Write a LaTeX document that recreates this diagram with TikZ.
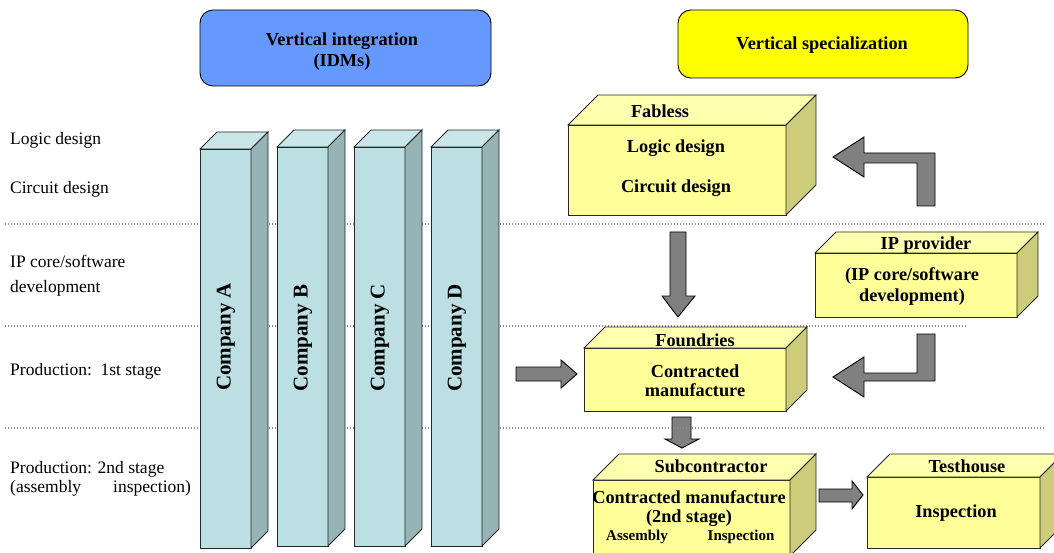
\documentclass[tikz,border=0pt]{standalone}
\usepackage{fontspec}
\setmainfont{Liberation Serif}
\definecolor{hdblue}{HTML}{6699FF}
\definecolor{hdyel}{HTML}{FFFF00}
\definecolor{colfront}{HTML}{BBDFE2}
\definecolor{coltop}{HTML}{C9E7E9}
\definecolor{colside}{HTML}{96B3B5}
\definecolor{yelfront}{HTML}{FFFF99}
\definecolor{yeltop}{HTML}{FFFFB0}
\definecolor{yelside}{HTML}{CCCC7A}
\definecolor{arrgray}{HTML}{808080}
\definecolor{dotgray}{HTML}{8C8C8C}
\newcommand{\cuboid}[6]{%
  \filldraw[#6front] (#1,#2) rectangle (#3,#4);
  \filldraw[#6top] (#1,#2) -- ({#1+#5},{#2-#5}) -- ({#3+#5},{#2-#5}) -- (#3,#2) -- cycle;
  \filldraw[#6side] (#3,#2) -- ({#3+#5},{#2-#5}) -- ({#3+#5},{#4-#5}) -- (#3,#4) -- cycle;
}
\tikzset{
  header/.style={draw=black, rounded corners=13pt, line width=0.9pt},
  colfront/.style={fill=colfront, draw=black!85, line width=0.9pt},
  coltop/.style={fill=coltop, draw=black!85, line width=0.9pt},
  colside/.style={fill=colside, draw=black!85, line width=0.9pt},
  yelfront/.style={fill=yelfront, draw=black!85, line width=0.9pt},
  yeltop/.style={fill=yeltop, draw=black!85, line width=0.9pt},
  yelside/.style={fill=yelside, draw=black!85, line width=0.9pt},
  blockarrow/.style={fill=arrgray, draw=black, line width=0.9pt},
  dotline/.style={draw=dotgray, line width=1.6pt, dash pattern=on 1.4pt off 1.6pt},
  side/.style={inner sep=0pt, anchor=base west, font=\fontsize{17.5}{20}\selectfont},
  bold/.style={inner sep=0pt, align=center, font=\fontsize{18.3}{21}\selectfont\bfseries},
  colname/.style={inner sep=0pt, rotate=90, font=\fontsize{21}{24}\selectfont\bfseries},
  small/.style={inner sep=0pt, font=\fontsize{15}{17}\selectfont\bfseries},
}
\begin{document}
\begin{tikzpicture}[x=1pt, y=-1pt]
\useasboundingbox (0,0) rectangle (1054,553);
\clip (0,0) rectangle (1054,553);
\fill[white] (0,0) rectangle (1054,553);

% header boxes
\filldraw[header, fill=hdblue] (200,10) rectangle (491,86);
\node[bold] (hdint) at (342,52) {Vertical integration\\(IDMs)};
\filldraw[header, fill=hdyel] (678,10) rectangle (968,78);
\node[bold] (hdspec) at (822,45) {Vertical specialization};

% side labels
\node[side] (l1) at (10,145) {Logic design};
\node[side] (l2) at (10,194) {Circuit design};
\node[side] (l3) at (10,268) {IP core/software};
\node[side] (l4) at (10,292) {development};
\node[side] (l5) at (10,375) {Production:\ \ 1st stage};
\node[side] (l6) at (10,473) {Production: 2nd stage};
\node[side] (l7) at (10,492) {(assembly};
\node[side] (l8) at (113,492) {inspection)};

% dotted separators
\draw[dotline] (5,224) -- (1045,224);
\draw[dotline] (5,326) -- (967,326);
\draw[dotline] (5,428) -- (1045,428);

% company columns
\cuboid{200}{149}{251}{548}{17}{col}
\cuboid{277}{147}{328}{546}{17}{col}
\cuboid{354}{147}{405}{546}{17}{col}
\cuboid{431}{147}{482}{546}{17}{col}
\node[colname] (ca) at (226,337) {Company A};
\node[colname] (cb) at (303,338) {Company B};
\node[colname] (cc) at (380,338) {Company C};
\node[colname] (cd) at (457,338) {Company D};

% Fabless
\cuboid{568}{125}{786}{215}{30}{yel}
\node[bold] (fab) at (660,111) {Fabless};
\node[bold] (fab1) at (676,148) {Logic design};
\node[bold] (fab2) at (676,188) {Circuit design};

% IP provider
\cuboid{815}{253}{1017}{317}{21}{yel}
\node[bold] (ip) at (926,245) {IP provider};
\node[bold] (ip1) at (912,287) {(IP core/software\\development)};

% Foundries
\cuboid{584}{348}{786}{411}{21}{yel}
\node[bold] (fo) at (695,340) {Foundries};
\node[bold, font=\fontsize{18.3}{19}\selectfont\bfseries] (fo1) at (695,381) {Contracted\\manufacture};

% Subcontractor
\cuboid{593}{480}{790}{556}{26}{yel}
\node[bold] (sc) at (711,466) {Subcontractor};
\node[bold, font=\fontsize{18.3}{19}\selectfont\bfseries] (sc1) at (689,509) {Contracted manufacture\\(2nd stage)};
\node[small] (sc2) at (637,537) {Assembly};
\node[small] (sc3) at (741,537) {Inspection};

% Testhouse
\cuboid{867}{477}{1040}{548}{23}{yel}
\node[bold] (th) at (967,466) {Testhouse};
\node[bold] (th1) at (956,513) {Inspection};

% block arrows
\filldraw[blockarrow] (516,367) -- (561,367) -- (561,360) -- (577,374) -- (561,388) -- (561,381) -- (516,381) -- cycle;
\filldraw[blockarrow] (670,232) -- (686,232) -- (686,296) -- (695,296) -- (678,317) -- (662,296) -- (670,296) -- cycle;
\filldraw[blockarrow] (672,417) -- (691,417) -- (691,439) -- (699,439) -- (682,448) -- (665,439) -- (672,439) -- cycle;
\draw[dotline] (665,428) -- (700,428);
\filldraw[blockarrow] (819,489) -- (852,489) -- (852,481) -- (863,495) -- (852,509) -- (852,502) -- (819,502) -- cycle;
\filldraw[blockarrow] (833,157) -- (864,137) -- (864,153) -- (935,153) -- (935,206) -- (917,206) -- (917,163) -- (864,163) -- (864,177) -- cycle;
\filldraw[blockarrow] (917,334) -- (935,334) -- (935,381) -- (864,381) -- (864,397) -- (833,377) -- (864,357) -- (864,373) -- (917,373) -- cycle;
\end{tikzpicture}
\end{document}
